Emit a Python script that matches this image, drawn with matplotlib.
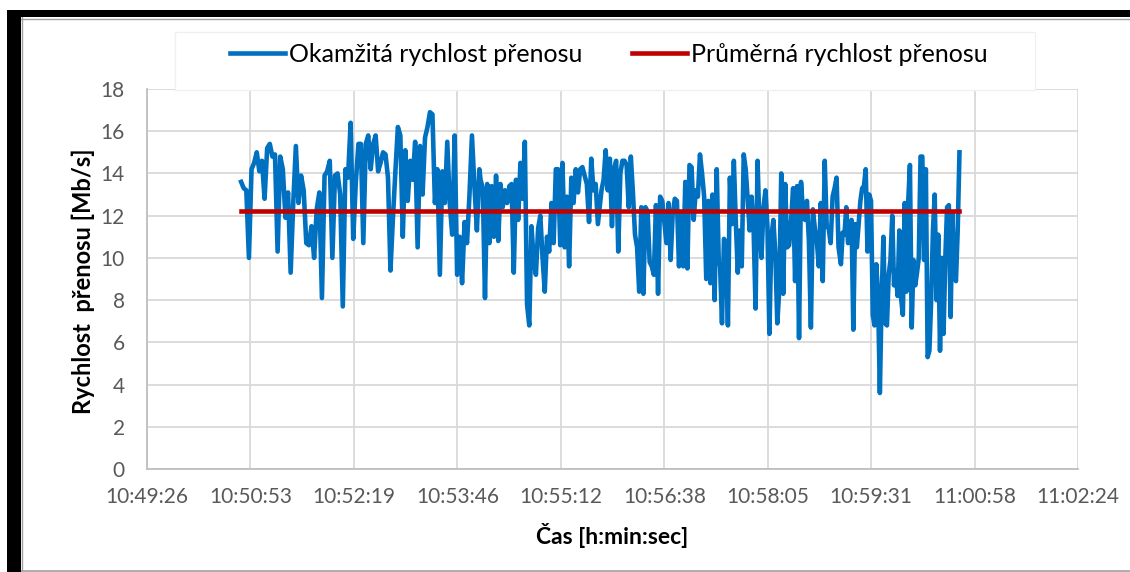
import numpy as np
from matplotlib import pyplot as plt
from matplotlib.patches import Rectangle
from matplotlib.lines import Line2D


seg_times = [("10:50:45", "10:52:23"),
             ("10:52:25", "10:54:04"),
             ("10:54:05", "10:55:43"),
             ("10:55:46", "10:57:24"),
             ("10:57:25", "10:59:04"),
             ("10:59:06", "11:00:45")]

seg1 = [13.6, 13.3, 13.2, 10.0, 14.2, 14.5, 15.0, 14.1, 14.6, 12.8, 15.2, 15.4, 14.8, 14.9, 10.3, 14.8,
        14.2, 11.9, 13.1, 9.3, 12.6, 15.3, 12.6, 13.9, 13.2, 10.7, 10.6, 11.5, 10.0, 12.3, 13.1, 8.1,
        13.9, 14.1, 14.6, 10.0, 13.9, 14.0, 13.0, 7.7, 14.2, 13.8, 16.4, 10.9, 13.6, 15.4]
seg2 = [15.4, 10.7, 15.4, 15.8, 14.2, 15.4, 15.8, 14.1, 14.5, 15.0, 14.9, 13.8, 9.4, 11.9, 14.1, 16.2,
        15.8, 11.0, 15.1, 12.7, 14.6, 13.7, 15.5, 10.5, 15.3, 13.0, 15.7, 16.2, 16.9, 16.8, 12.6, 14.2,
        9.2, 14.1, 12.6, 15.5, 12.6, 11.1, 15.8, 9.2, 11.0, 8.8, 11.7, 10.7, 13.0, 15.8, 13.4, 11.3, 14.2]
seg3 = [13.7, 13.3, 8.1, 13.5, 10.7, 13.4, 11.0, 13.9, 10.8, 13.5, 12.4, 13.2, 12.6, 13.4, 13.5, 9.3,
        13.7, 11.8, 14.5, 12.8, 15.5, 7.8, 6.8, 11.5, 9.9, 9.2, 11.4, 12.0, 10.0, 8.4, 11.0, 10.3,
        12.6, 10.7, 14.2, 14.2, 10.6, 14.5, 10.5, 12.9, 9.6, 13.8, 12.6, 14.2, 13.1, 14.2, 14.3, 13.9,
        13.5, 11.7, 14.7, 13.2, 13.5, 11.6]
seg4 = [13.2, 13.7, 15.1, 13.2, 14.7, 11.5, 14.2, 14.6, 10.3, 14.0, 14.6, 14.6, 14.4, 12.4, 14.8, 13.1,
        11.1, 10.5, 8.4, 12.4, 8.3, 12.4, 12.2, 9.8, 9.6, 9.2, 12.5, 8.3, 12.9, 12.7, 11.7, 10.7,
        12.6, 9.9, 12.1, 12.8, 12.7, 9.6, 12.1, 9.6, 13.6, 9.5, 14.4, 14.3, 11.8, 13.2, 12.9, 14.9,
        14.0, 12.9, 9.0, 12.7, 8.8, 13.0, 8.0, 14.2, 9.7]
seg5 = [9.7, 6.9, 10.9, 10.7, 6.8, 13.8, 11.6, 14.6, 11.7, 9.3, 11.3, 9.6, 14.9, 14.2, 12.8, 11.3,
        12.9, 11.4, 7.6, 14.6, 11.4, 10.0, 12.4, 13.2, 11.5, 6.4, 11.0, 11.8, 10.2, 6.9, 8.5, 14.0,
        8.3, 13.5, 10.5, 10.6, 11.8, 13.3, 8.9, 13.4, 6.2, 13.6, 12.2, 11.8, 12.7, 10.8, 6.7, 12.3,
        11.4, 10.8, 9.6, 12.6, 8.9, 14.6, 11.5, 11.4, 10.7, 12.9, 13.3, 13.8, 10.5]
seg6 = [9.7, 11.2, 11.1, 12.4, 10.7, 10.8, 11.8, 6.6, 11.6, 10.5, 11.6, 12.7, 13.3, 13.4, 14.2, 10.3,
        13.0, 12.7, 7.3, 6.8, 9.7, 8.1, 3.6, 8.1, 11.0, 6.9, 6.8, 9.2, 9.9, 12.0, 8.7, 9.4,
        8.2, 11.3, 8.1, 7.3, 12.6, 8.4, 12.6, 14.4, 6.7, 9.9, 8.7, 9.3, 10.0, 14.8, 14.8, 9.9,
        14.2, 5.3, 5.6, 8.0, 11.3, 13.0, 8.0, 11.1, 5.6, 10.0, 6.4, 10.0, 12.4, 12.5, 7.2, 12.1,
        9.4, 8.9, 11.3, 15.0]
segments = [seg1, seg2, seg3, seg4, seg5, seg6]

avg_rate = 12.2

# excel axis: 0.451 .. 0.460 day, step 0.001 day
x_min_day = 0.451
x_max_day = 0.460
x_step_day = 0.001
y_ticks = [0, 2, 4, 6, 8, 10, 12, 14, 16, 18]

label_inst = 'Okamžitá rychlost přenosu'
label_avg = 'Průměrná rychlost přenosu'
x_label = 'Čas [h:min:sec]'
y_label = 'Rychlost  přenosu [Mb/s]'


def hms2sec(s):
    h, m, sec = s.split(':')
    return int(h) * 3600 + int(m) * 60 + int(sec)


def sec2hms(t):
    t = int(round(t))
    return f"{t // 3600}:{(t % 3600) // 60:02d}:{t % 60:02d}"


def build_series():
    t_all = []
    v_all = []
    for (t0, t1), vals in zip(seg_times, segments):
        t = np.linspace(hms2sec(t0), hms2sec(t1), len(vals))
        t_all.extend(t)
        v_all.extend(vals)
    return np.array(t_all), np.array(v_all)


def create_plot(out_file):
    plt.rcParams['font.family'] = ['Lato', 'DejaVu Sans']
    W, H = 1130, 572
    fig = plt.figure(figsize=(W / 100, H / 100), dpi=100)
    fig.patch.set_facecolor('white')

    ax = fig.add_axes([147 / W, 1 - 469 / H, 931 / W, 380 / H])

    t, v = build_series()
    ax.plot(t, v, color='#0070c0', lw=3.3, solid_joinstyle='round', zorder=3)
    ax.plot([t[0], t[-1]], [avg_rate, avg_rate], color='#c00000', lw=3.3, zorder=4)

    day = 86400
    ax.set_xlim(x_min_day * day, x_max_day * day)
    ax.set_ylim(0, 18)
    xt = np.arange(x_min_day, x_max_day + x_step_day / 2, x_step_day) * day
    ax.set_xticks(xt)
    ax.set_xticklabels([sec2hms(x) for x in xt])
    ax.set_yticks(y_ticks)

    ax.grid(True, color='#d9d9d9', lw=1.3)
    ax.set_axisbelow(True)
    for side in ['top', 'right']:
        ax.spines[side].set_visible(False)
    for side in ['left', 'bottom']:
        ax.spines[side].set_color('#bfbfbf')
        ax.spines[side].set_linewidth(1.3)
    ax.tick_params(axis='both', length=0, labelsize=15, labelcolor='#595959')
    ax.tick_params(axis='y', pad=16)
    ax.tick_params(axis='x', pad=13)

    # axis titles
    fig.text(83 / W, 1 - 281 / H, y_label, rotation=90, ha='center', va='center',
             fontsize=17, fontweight='bold', color='black')
    fig.text(612 / W, 1 - 535 / H, x_label, ha='center', va='center',
             fontsize=16.5, fontweight='bold', color='black')

    # legend box sits on top of the plot area
    fig.patches.append(Rectangle((175 / W, 1 - 90 / H), 860 / W, 58 / H, transform=fig.transFigure,
                                 facecolor='white', edgecolor='#f0f0f0', lw=1, zorder=2))
    handles = [Line2D([], [], color='#0070c0', lw=3.3), Line2D([], [], color='#c00000', lw=3.3)]
    fig.legend(handles, [label_inst, label_avg], loc='center', bbox_to_anchor=(609 / W, 1 - 54 / H),
               ncol=2, frameon=False, fontsize=18, handlelength=2.2, handletextpad=0.15,
               columnspacing=2.0)

    # page frame
    fig.patches.append(Rectangle((7 / W, 0), 14 / W, 1 - 10 / H, transform=fig.transFigure,
                                 facecolor='black', edgecolor='none', zorder=3))
    fig.patches.append(Rectangle((7 / W, 1 - 17 / H), 1 - 7 / W, 7 / H, transform=fig.transFigure,
                                 facecolor='black', edgecolor='none', zorder=3))
    fig.add_artist(Line2D([22 / W, 22 / W], [0, 1 - 17 / H], transform=fig.transFigure,
                          color='#a0a0a0', lw=1))
    fig.add_artist(Line2D([21 / W, 1], [1 - 18.5 / H, 1 - 18.5 / H], transform=fig.transFigure,
                          color='#a0a0a0', lw=1))
    fig.add_artist(Line2D([21 / W, 1], [1.2 / H, 1.2 / H], transform=fig.transFigure,
                          color='#a0a0a0', lw=1.2))

    plt.savefig(out_file, dpi=100)
    plt.close()


if __name__ == "__main__":
    create_plot('out.png')
